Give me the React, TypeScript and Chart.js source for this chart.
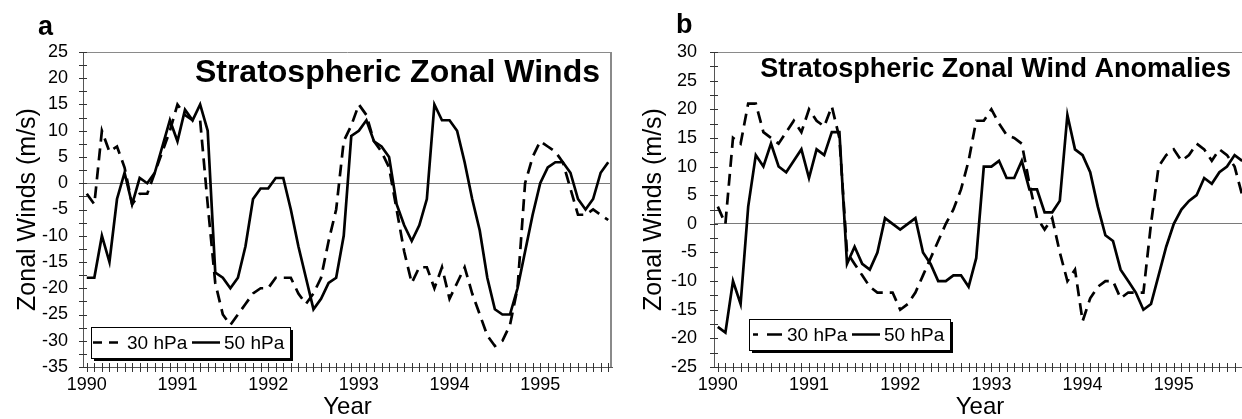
import React, { useEffect, useRef } from "react";
import { Chart, registerables } from "chart.js";

Chart.register(...registerables);

const FONT_FAMILY = "'Liberation Sans', Arial, Helvetica, sans-serif";

// ---------- data ----------
const YEAR_LABELS = ["1990", "1991", "1992", "1993", "1994", "1995"];
const MONTH_NAMES = ["Jan", "Feb", "Mar", "Apr", "May", "Jun", "Jul", "Aug", "Sep", "Oct", "Nov", "Dec"];
const MONTH_COUNT = 70; // Jan 1990 .. Oct 1995
const CATEGORIES = YEAR_LABELS.flatMap((y) => MONTH_NAMES.map((m) => `${m} ${y}`)).slice(0, MONTH_COUNT);

const SERIES_NAMES = ["30 hPa", "50 hPa"];

// panel a: stratospheric zonal winds (m/s)
const WINDS_30HPA = [
  -2, -4, 10, 6, 7, 3, -4, -2, -2, 2,
  6, 10, 15, 13, 12, 12, -4, -19, -25, -27,
  -25, -23, -21, -20, -20, -18, -18, -18, -21, -23,
  -21, -18, -11, -5, 8, 11, 15, 13, 8, 6,
  3, -5, -13, -19, -16, -16, -20, -16, -22, -19,
  -16, -21, -25, -29, -31, -30, -27, -20, 0, 5,
  8, 7, 6, 4, -1, -6, -6, -5, -6, -7,
];
const WINDS_50HPA = [
  -18, -18, -10, -15, -3, 2, -4, 1, 0, 2,
  7, 12, 8, 14, 12, 15, 10, -17, -18, -20,
  -18, -12, -3, -1, -1, 1, 1, -5, -12, -18,
  -24, -22, -19, -18, -10, 9, 10, 12, 8, 7,
  5, -4, -8, -11, -8, -3, 15, 12, 12, 10,
  4, -3, -9, -18, -24, -25, -25, -20, -13, -6,
  0, 3, 4, 4, 2, -3, -5, -3, 2, 4,
];

// panel b: stratospheric zonal wind anomalies (m/s)
const ANOMALY_30HPA = [
  3, 0, 15, 14, 21, 21, 16, 15, 14, 16,
  18, 16, 20, 18, 17, 20.5, 15, -5, -7, -9,
  -11, -12, -12, -12, -15, -14, -12, -9, -6, -3,
  0, 2.5, 6, 11, 18, 18, 20, 17.5, 15.5, 15,
  14, 7, 1, -1, 1, -5, -10, -8, -17, -13,
  -11, -10, -10, -13, -12, -12, -12, 0, 10, 12,
  13, 11, 12, 14, 13, 11, 13, 12, 10, 5,
];
const ANOMALY_50HPA = [
  -18, -19, -10, -14, 3, 12, 10, 14, 10, 9,
  11, 13, 8, 13, 12, 16, 16, -7, -4, -7,
  -8, -5, 1, 0, -1, 0, 1, -5, -7, -10,
  -10, -9, -9, -11, -6, 10, 10, 11, 8, 8,
  11, 6, 6, 2, 2, 4, 19, 13, 12, 9,
  3, -2, -3, -8, -10, -12, -15, -14, -9, -4,
  0, 2.5, 4, 5, 8, 7, 9, 10, 12, 11,
];

const Y_RANGE_A = [-35, 25];
const Y_RANGE_B = [-25, 30];
const Y_TICK_STEP = 5;

// ---------- plugins ----------
const framePlugin = {
  id: "panelFrame",
  beforeDatasetsDraw(chart: any, _args: any, opts: any) {
    const { ctx, chartArea: ca } = chart;
    ctx.save();
    ctx.strokeStyle = "#8a8a8a";
    ctx.lineWidth = 1;
    ctx.beginPath();
    ctx.moveTo(ca.left, Math.round(ca.top) + 0.5);
    ctx.lineTo(ca.right, Math.round(ca.top) + 0.5);
    ctx.stroke();
    if (opts.rightBorder) {
      ctx.lineWidth = 2;
      ctx.beginPath();
      ctx.moveTo(ca.right - 1, ca.top);
      ctx.lineTo(ca.right - 1, ca.bottom);
      ctx.stroke();
    }
    ctx.restore();
  },
};

const crossTicksPlugin = {
  id: "crossTicks",
  afterDatasetsDraw(chart: any, _args: any, opts: any) {
    const { ctx, chartArea: ca, scales } = chart;
    const x = scales.x;
    const y = scales.y;
    ctx.save();
    ctx.strokeStyle = "#333";
    ctx.lineWidth = 1;
    ctx.beginPath();
    for (let i = 0; i < chart.data.labels.length; i++) {
      const px = Math.round(x.getPixelForValue(i)) + 0.5;
      ctx.moveTo(px, ca.bottom - 4);
      ctx.lineTo(px, ca.bottom + 5);
    }
    const n = Math.round((y.max - y.min) / opts.yMinorStep);
    for (let k = 0; k <= n; k++) {
      const py = Math.round(y.getPixelForValue(y.min + k * opts.yMinorStep)) + 0.5;
      ctx.moveTo(ca.left - 4, py);
      ctx.lineTo(ca.left + 4, py);
    }
    ctx.stroke();
    ctx.restore();
  },
};

const decorPlugin = {
  id: "panelDecor",
  afterDraw(chart: any, _args: any, o: any) {
    const { ctx } = chart;
    ctx.save();
    ctx.fillStyle = "#000";
    ctx.textBaseline = "alphabetic";
    // panel letter
    ctx.font = `bold ${o.letterSize}px ${FONT_FAMILY}`;
    ctx.textAlign = "left";
    ctx.fillText(o.letter, o.letterX, o.letterBaseline);
    // inner title
    ctx.font = `bold ${o.titleSize}px ${FONT_FAMILY}`;
    ctx.textAlign = "right";
    ctx.fillText(o.title, o.titleRight, o.titleBaseline);
    // legend box with shadow
    const lg = o.legend;
    ctx.fillStyle = "#000";
    ctx.fillRect(lg.left + 3, lg.top + 3, lg.width, lg.height);
    ctx.fillStyle = "#fff";
    ctx.fillRect(lg.left, lg.top, lg.width, lg.height);
    ctx.strokeStyle = "#000";
    ctx.lineWidth = 1;
    ctx.strokeRect(Math.round(lg.left) + 0.5, Math.round(lg.top) + 0.5, Math.round(lg.width), Math.round(lg.height));
    const cy = lg.top + lg.height / 2;
    ctx.font = `${lg.fontSize}px ${FONT_FAMILY}`;
    ctx.textAlign = "left";
    ctx.textBaseline = "middle";
    chart.data.datasets.forEach((ds: any, i: number) => {
      const it = lg.items[i];
      ctx.strokeStyle = "#000";
      ctx.lineWidth = 2.5;
      ctx.setLineDash(i === 0 ? lg.sampleDash : []);
      ctx.beginPath();
      ctx.moveTo(lg.left + it.from, cy);
      ctx.lineTo(lg.left + it.to, cy);
      ctx.stroke();
      ctx.setLineDash([]);
      ctx.fillStyle = "#000";
      ctx.fillText(ds.label, lg.left + it.text, cy + 1);
    });
    ctx.restore();
  },
};

// ---------- panel spec ----------
type Panel = {
  width: number;
  chartLeft: number;
  chartRight: number;
  yRange: number[];
  values: number[][];
  yTitlePad: number;
  yTickPad: number;
  rightBorder: boolean;
  decor: any;
};

const PANEL_A: Panel = {
  width: 620,
  chartLeft: 83,
  chartRight: 612,
  yRange: Y_RANGE_A,
  values: [WINDS_30HPA, WINDS_50HPA],
  yTitlePad: 16,
  yTickPad: 10,
  rightBorder: true,
  decor: {
    letter: "a",
    letterSize: 27,
    letterX: 38,
    letterBaseline: 35,
    title: "Stratospheric Zonal Winds",
    titleSize: 32,
    titleRight: 600,
    titleBaseline: 82,
    legend: {
      left: 91,
      top: 327,
      width: 199,
      height: 31,
      fontSize: 19,
      sampleDash: [9, 7],
      items: [
        { from: 2, to: 27, text: 36 },
        { from: 101, to: 129, text: 133 },
      ],
    },
  },
};

const PANEL_B: Panel = {
  width: 630,
  chartLeft: 94,
  chartRight: 626,
  yRange: Y_RANGE_B,
  values: [ANOMALY_30HPA, ANOMALY_50HPA],
  yTitlePad: 22,
  yTickPad: 12,
  rightBorder: false,
  decor: {
    letter: "b",
    letterSize: 27,
    letterX: 56,
    letterBaseline: 33,
    title: "Stratospheric Zonal Wind Anomalies",
    titleSize: 27,
    titleRight: 611,
    titleBaseline: 77,
    legend: {
      left: 129,
      top: 319,
      width: 201,
      height: 31,
      fontSize: 19,
      sampleDash: [5, 9, 15, 0],
      items: [
        { from: 4, to: 33, text: 38 },
        { from: 103, to: 131, text: 135 },
      ],
    },
  },
};

const HEIGHT = 419;
const CHART_TOP = 52;
const CHART_BOTTOM = 367;

function buildConfig(p: Panel): any {
  return {
    type: "line",
    data: {
      labels: CATEGORIES,
      datasets: [
        {
          label: SERIES_NAMES[0],
          data: p.values[0],
          borderColor: "#000",
          borderWidth: 2.7,
          borderDash: [12, 7],
          pointRadius: 0,
          tension: 0,
          fill: false,
        },
        {
          label: SERIES_NAMES[1],
          data: p.values[1],
          borderColor: "#000",
          borderWidth: 2.7,
          pointRadius: 0,
          tension: 0,
          fill: false,
        },
      ],
    },
    options: {
      animation: false,
      responsive: false,
      devicePixelRatio: 1,
      layout: { padding: { top: CHART_TOP, right: p.width - p.chartRight, left: 0, bottom: 0 } },
      plugins: {
        legend: { display: false },
        title: { display: false },
        tooltip: { enabled: false },
        panelFrame: { rightBorder: p.rightBorder },
        crossTicks: { yMinorStep: Y_TICK_STEP / 2 },
        panelDecor: p.decor,
      },
      scales: {
        x: {
          type: "category",
          offset: true,
          afterFit: (s: any) => {
            s.height = HEIGHT - CHART_BOTTOM;
          },
          grid: { display: true, drawOnChartArea: false, drawTicks: true, tickLength: 4, color: "transparent" },
          border: { display: true, color: "#555", width: 1 },
          ticks: {
            autoSkip: false,
            maxRotation: 0,
            minRotation: 0,
            padding: 3,
            color: "#000",
            font: { family: FONT_FAMILY, size: 18 },
            callback: (_v: any, i: number) => (i % 12 === 0 ? YEAR_LABELS[i / 12] : ""),
          },
          title: {
            display: true,
            text: "Year",
            color: "#000",
            font: { family: FONT_FAMILY, size: 24, lineHeight: 1 },
            padding: { top: 0, bottom: 0 },
          },
        },
        y: {
          type: "linear",
          min: p.yRange[0],
          max: p.yRange[1],
          afterFit: (s: any) => {
            s.width = p.chartLeft;
          },
          grid: {
            display: true,
            drawOnChartArea: true,
            drawTicks: true,
            tickLength: 5,
            color: (c: any) => (c.tick && c.tick.value === 0 ? "#7a7a7a" : "transparent"),
            tickColor: "transparent",
            lineWidth: 1,
          },
          border: { display: true, color: "#555", width: 1 },
          ticks: {
            stepSize: Y_TICK_STEP,
            padding: p.yTickPad,
            color: "#000",
            font: { family: FONT_FAMILY, size: 18 },
          },
          title: {
            display: true,
            text: "Zonal Winds (m/s)",
            color: "#000",
            font: { family: FONT_FAMILY, size: 25, lineHeight: 1 },
            padding: { top: p.yTitlePad, bottom: 0 },
          },
        },
      },
    },
    plugins: [framePlugin, crossTicksPlugin, decorPlugin],
  };
}

function PanelChart({ panel, left }: { panel: Panel; left: number }) {
  const ref = useRef<HTMLCanvasElement | null>(null);
  useEffect(() => {
    if (!ref.current) return;
    const chart = new Chart(ref.current, buildConfig(panel));
    return () => chart.destroy();
  }, [panel]);
  return (
    <canvas
      ref={ref}
      width={panel.width}
      height={HEIGHT}
      style={{ position: "absolute", left, top: 0, width: panel.width, height: HEIGHT }}
    />
  );
}

export default function App() {
  return (
    <div
      style={{
        position: "fixed",
        left: 0,
        top: 0,
        width: 1242,
        height: HEIGHT,
        overflow: "hidden",
        background: "#fff",
      }}
    >
      <PanelChart panel={PANEL_A} left={0} />
      <PanelChart panel={PANEL_B} left={620} />
    </div>
  );
}
